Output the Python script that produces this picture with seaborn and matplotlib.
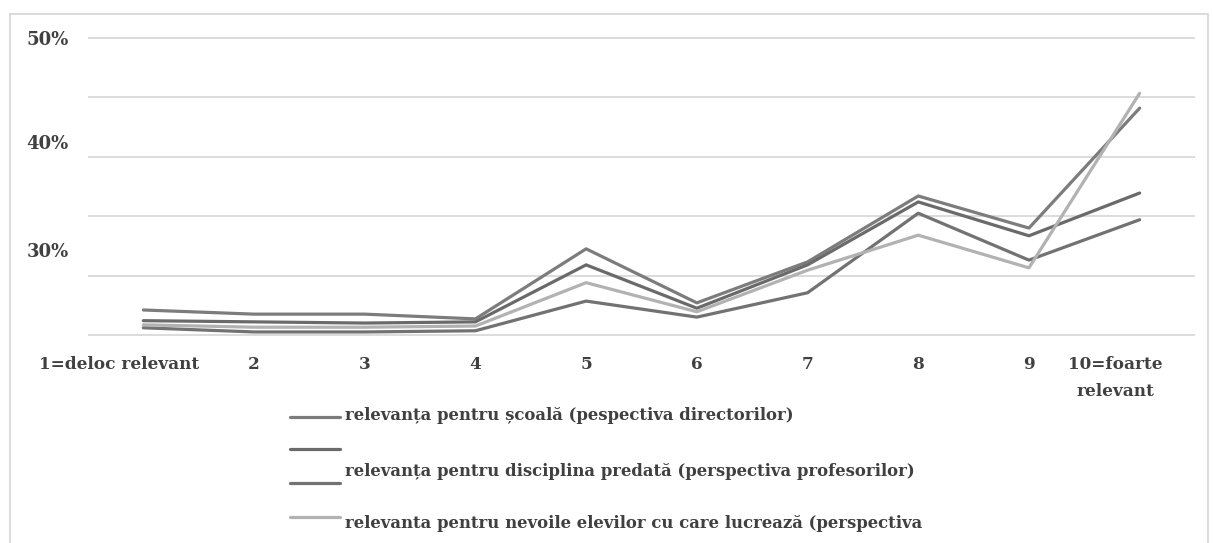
import numpy as np
import pandas as pd
import matplotlib
matplotlib.use("Agg")
import matplotlib.pyplot as plt
import matplotlib.transforms as mtransforms
from matplotlib.lines import Line2D
from matplotlib.patches import Rectangle
import seaborn as sns

# Rating scale categories (x axis)
categories = ["1=deloc relevant", "2", "3", "4", "5", "6", "7", "8", "9",
              "10=foarte\nrelevant"]

# Share of answers (%) per rating, one list per series
scoala = [4.2, 3.5, 3.5, 2.7, 14.5, 5.4, 12.3, 23.4, 18.0, 38.2]
disciplina = [2.4, 2.2, 2.0, 2.2, 11.8, 4.5, 11.8, 22.4, 16.7, 23.9]
serie_3 = [1.2, 0.5, 0.5, 0.7, 5.7, 3.0, 7.1, 20.5, 12.6, 19.4]
nevoi_elevi = [1.7, 1.3, 1.3, 1.5, 8.8, 3.9, 10.9, 16.8, 11.3, 40.7]

series_names = ["scoala", "disciplina", "serie_3", "nevoi_elevi"]
series_values = [scoala, disciplina, serie_3, nevoi_elevi]

legend_texts = [
    "relevanța pentru școală (pespectiva directorilor)",
    "relevanța pentru disciplina predată (perspectiva profesorilor)",
    "relevanta pentru nevoile elevilor cu care lucrează (perspectiva",
]

y_tick_values = [50, 32.5, 14.3]
y_tick_labels = ["50%", "40%", "30%"]
grid_values = [0, 10, 20, 30, 40, 50]

palette = {"scoala": "#7c7c7c", "disciplina": "#6a6a6a",
           "serie_3": "#727272", "nevoi_elevi": "#b2b2b2"}

rows = []
for name, vals in zip(series_names, series_values):
    for i, v in enumerate(vals):
        rows.append({"pos": i + 1, "val": v, "serie": name})
df = pd.DataFrame(rows)

sns.set_theme(style="white")
plt.rcParams["font.family"] = ["DejaVu Serif"]

font_kw = dict(fontweight="bold")
text_color = "#404040"

W, H = 1213, 543
fig = plt.figure(figsize=(W / 100, H / 100), dpi=100)
fig.patch.set_facecolor("white")

# light frame around the whole chart
fig.patches.append(Rectangle((10 / W, -0.01), (1208 - 10) / W, 1 - 14 / H + 0.01,
                             transform=fig.transFigure, fill=False,
                             edgecolor="#d4d4d4", linewidth=1.2))

ax = fig.add_axes([88 / W, 1 - 337 / H, (1195 - 88) / W, (337 - 36) / H])
ax.set_facecolor("white")

for g in grid_values:
    ax.axhline(g, color="#d9d9d9", linewidth=1.3, zorder=0)

sns.lineplot(data=df, x="pos", y="val", hue="serie", palette=palette,
             hue_order=series_names, linewidth=2.3, legend=False, ax=ax,
             zorder=3)

ax.set_xlim(0.5, 10.5)
ax.set_ylim(-0.35, 50.35)
for s in ax.spines.values():
    s.set_visible(False)

ax.set_xticks(range(1, len(categories) + 1))
ax.set_xticklabels(categories, fontsize=12.2, color=text_color, linespacing=1.75,
                   **font_kw)
ax.set_yticks(y_tick_values)
ax.set_yticklabels(y_tick_labels, fontsize=13, color=text_color, **font_kw)
ax.tick_params(axis="x", length=0, pad=14)
ax.tick_params(axis="y", length=0, pad=14)
ax.set_xlabel("")
ax.set_ylabel("")

# long end labels sit slightly left of their points
shift = mtransforms.ScaledTranslation(-24 / 100, 0, fig.dpi_scale_trans)
xt = ax.get_xticklabels()
for lab in (xt[0], xt[-1]):
    lab.set_transform(lab.get_transform() + shift)
xt[-1].set_verticalalignment("top")

# legend: four handles, three text rows
handle_y = [417, 449, 483, 517]
for name, hy in zip(series_names, handle_y):
    fig.add_artist(Line2D([290 / W, 340 / W], [1 - hy / H, 1 - hy / H],
                          transform=fig.transFigure, color=palette[name],
                          linewidth=2.3))
text_y = [416, 471, 524]
for txt, ty in zip(legend_texts, text_y):
    fig.text(345 / W, 1 - ty / H, txt, fontsize=11.9, color=text_color,
             va="center", ha="left", **font_kw)

fig.savefig("out.png", dpi=100)
